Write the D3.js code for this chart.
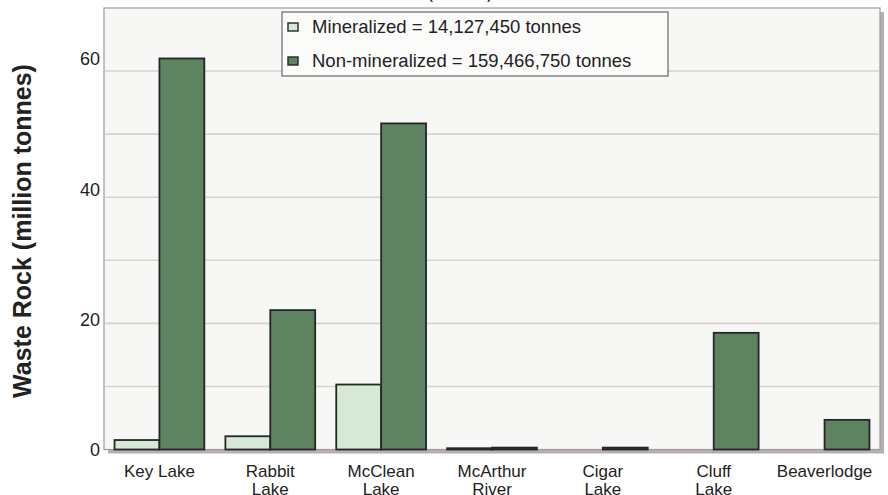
<!DOCTYPE html>
<html>
<head>
<meta charset="utf-8">
<script src="https://cdn.jsdelivr.net/npm/d3@7"></script>
<style>
  body { margin: 0; background: #ffffff; }
  text { font-family: "Liberation Sans", Arial, sans-serif; fill: #222; }
</style>
</head>
<body>
<div id="chart"></div>
<script>
/*global d3*/

// data (million tonnes)
var mines = ["Key Lake", "Rabbit Lake", "McClean Lake", "McArthur River", "Cigar Lake", "Cluff Lake", "Beaverlodge"];
var mineLabels = [["Key Lake"], ["Rabbit", "Lake"], ["McClean", "Lake"], ["McArthur", "River"], ["Cigar", "Lake"], ["Cluff", "Lake"], ["Beaverlodge"]];
var mineralized = [1.5, 2.1, 10.3, 0.2, 0, 0, 0];
var nonMineralized = [62.0, 22.1, 51.7, 0.3, 0.3, 18.5, 4.7];
var seriesNames = ["Mineralized = 14,127,450 tonnes", "Non-mineralized = 159,466,750 tonnes"];
var seriesColors = ["#d6e8d6", "#5e8361"];
var yTicks = [0, 20, 40, 60];
var gridTicks = [10, 20, 30, 40, 50, 60];

var width = 888,
    height = 495,
    margin = {top: 8, right: 8, bottom: 45.5, left: 104};

var svg = d3.select("#chart").append("svg")
  .attr("width", width)
  .attr("height", height);

var x0 = d3.scaleBand()
  .domain(mines)
  .range([margin.left, width - margin.right])
  .paddingInner(0.19)
  .paddingOuter(0.095);

var x1 = d3.scaleBand()
  .domain([0, 1])
  .range([0, x0.bandwidth()]);

var y = d3.scaleLinear()
  .domain([0, 70])
  .range([height - margin.bottom, margin.top]);

// the printed tick labels drift a little above their gridlines
var yLabel = d3.scaleLinear()
  .domain([0, 60])
  .range([y(0), y(60) - 12]);

var plotW = width - margin.left - margin.right,
    plotH = y(0) - margin.top;

// shadow and plot background
svg.append("rect")
  .attr("x", margin.left + 4)
  .attr("y", margin.top + 4)
  .attr("width", plotW)
  .attr("height", plotH)
  .style("fill", "#b7afad");

svg.append("rect")
  .attr("x", margin.left)
  .attr("y", margin.top)
  .attr("width", plotW)
  .attr("height", plotH)
  .style("fill", "#f7f7f5")
  .style("stroke", "#a19b9a")
  .style("stroke-width", 1.2);

// title, mostly above the top edge as in the source
svg.append("text")
  .attr("x", 493)
  .attr("y", -2)
  .attr("text-anchor", "end")
  .style("font-size", "18px")
  .text("Waste Rock (tonnes)");

// gridlines
svg.selectAll("line.grid")
  .data(gridTicks)
  .enter()
  .append("line")
  .attr("class", "grid")
  .attr("x1", margin.left + 1)
  .attr("x2", width - margin.right - 1)
  .attr("y1", function(d){ return y(d); })
  .attr("y2", function(d){ return y(d); })
  .style("stroke", "#d9d1d0")
  .style("stroke-width", 1.6);

// bars (zero values are not drawn)
var groups = svg.selectAll("g.mine")
  .data(mines)
  .enter()
  .append("g")
  .attr("class", "mine")
  .attr("transform", function(d){ return "translate(" + x0(d) + ",0)"; });

groups.selectAll("rect")
  .data(function(d, i){
    return [{s: 0, v: mineralized[i]}, {s: 1, v: nonMineralized[i]}]
      .filter(function(b){ return b.v > 0; });
  })
  .enter()
  .append("rect")
  .attr("x", function(d){ return x1(d.s); })
  .attr("y", function(d){ return y(d.v); })
  .attr("width", x1.bandwidth())
  .attr("height", function(d){ return y(0) - y(d.v); })
  .style("fill", function(d){ return seriesColors[d.s]; })
  .style("stroke", "#262626")
  .style("stroke-width", 1.8);

// y tick labels
svg.selectAll("text.ytick")
  .data(yTicks)
  .enter()
  .append("text")
  .attr("class", "ytick")
  .attr("x", 100)
  .attr("y", function(d){ return yLabel(d); })
  .attr("dy", "0.35em")
  .attr("text-anchor", "end")
  .style("font-size", "18px")
  .text(function(d){ return d; });

// x labels
var xl = svg.selectAll("text.xlab")
  .data(mines)
  .enter()
  .append("text")
  .attr("class", "xlab")
  .attr("text-anchor", "middle")
  .attr("x", function(d){ return x0(d) + x0.bandwidth() / 2; })
  .attr("y", 477)
  .style("font-size", "17px");

xl.selectAll("tspan")
  .data(function(d, i){ return mineLabels[i]; })
  .enter()
  .append("tspan")
  .attr("x", function(){ return d3.select(this.parentNode).attr("x"); })
  .attr("dy", function(d, k){ return k === 0 ? 0 : 17.5; })
  .text(function(d){ return d; });

// y axis title
svg.append("text")
  .attr("transform", "translate(31," + 231 + ") rotate(-90)")
  .attr("text-anchor", "middle")
  .style("font-size", "25px")
  .style("font-weight", "bold")
  .text("Waste Rock (million tonnes)");

// legend
var legend = svg.append("g")
  .attr("transform", "translate(282,12)");

legend.append("rect")
  .attr("width", 386)
  .attr("height", 64)
  .style("fill", "#fbfbfa")
  .style("stroke", "#4a4a4a")
  .style("stroke-width", 1);

var items = legend.selectAll("g.item")
  .data(seriesNames)
  .enter()
  .append("g")
  .attr("class", "item")
  .attr("transform", function(d, i){ return "translate(0," + (15 + i * 34) + ")"; });

items.append("rect")
  .attr("x", 6)
  .attr("y", -4)
  .attr("width", 10)
  .attr("height", 8)
  .style("fill", function(d, i){ return seriesColors[i]; })
  .style("stroke", "#262626")
  .style("stroke-width", 1.4);

items.append("text")
  .attr("x", 30)
  .attr("dy", "0.35em")
  .style("font-size", "18.5px")
  .text(function(d){ return d; });
</script>
</body>
</html>
